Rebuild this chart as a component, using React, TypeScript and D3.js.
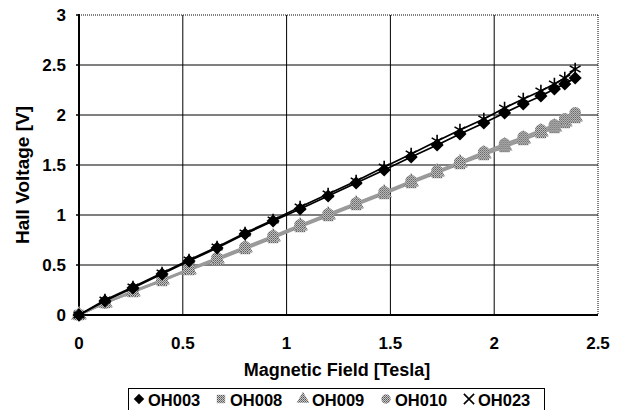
import React from "react";
import * as d3 from "d3";

// magnetic field (T) at each measurement step
const fieldT = [0, 0.125, 0.26, 0.4, 0.53, 0.665, 0.8, 0.935, 1.065, 1.2, 1.335, 1.47, 1.6, 1.725, 1.835, 1.95, 2.05, 2.14, 2.225, 2.29, 2.34, 2.39];

const oh003 = [0, 0.14, 0.27, 0.41, 0.54, 0.67, 0.81, 0.94, 1.06, 1.19, 1.32, 1.45, 1.58, 1.7, 1.81, 1.92, 2.02, 2.11, 2.19, 2.26, 2.31, 2.37];
const oh023 = [0, 0.15, 0.28, 0.42, 0.55, 0.68, 0.82, 0.95, 1.08, 1.21, 1.34, 1.48, 1.61, 1.74, 1.85, 1.96, 2.07, 2.16, 2.24, 2.31, 2.37, 2.46];
const oh008 = [0, 0.12, 0.23, 0.34, 0.45, 0.55, 0.66, 0.77, 0.88, 0.99, 1.1, 1.21, 1.32, 1.42, 1.51, 1.6, 1.68, 1.75, 1.82, 1.87, 1.92, 1.97];
const oh009 = [0, 0.12, 0.23, 0.35, 0.45, 0.56, 0.67, 0.78, 0.89, 1.0, 1.11, 1.22, 1.33, 1.43, 1.52, 1.61, 1.69, 1.76, 1.83, 1.88, 1.93, 1.98];
const oh010 = [0, 0.12, 0.24, 0.35, 0.46, 0.57, 0.68, 0.79, 0.9, 1.01, 1.12, 1.23, 1.34, 1.44, 1.53, 1.63, 1.71, 1.78, 1.85, 1.9, 1.96, 2.02];

const xTicks = [0, 0.5, 1, 1.5, 2, 2.5];
const yTicks = [0, 0.5, 1, 1.5, 2, 2.5, 3];

const BLACK = "#000";
const GRAY = "#9a9a9a";

const series = [
  { name: "OH008", values: oh008, color: GRAY, symbol: d3.symbolSquare },
  { name: "OH009", values: oh009, color: GRAY, symbol: d3.symbolTriangle },
  { name: "OH010", values: oh010, color: GRAY, symbol: d3.symbolCircle },
  { name: "OH003", values: oh003, color: BLACK, symbol: d3.symbolDiamond2 },
  { name: "OH023", values: oh023, color: BLACK, symbol: d3.symbolAsterisk },
];
const legendOrder = ["OH003", "OH008", "OH009", "OH010", "OH023"];
const legendX = [139, 221, 303, 386, 469];

const W = 623, H = 410;
const m = { left: 79, right: 25, top: 15, bottom: 95 };
const font = "'Liberation Sans', Arial, sans-serif";

function Marker({ s, x, y, size, symbol }: any) {
  const type = symbol || s.symbol;
  const path = d3.symbol().type(type).size(size)();
  const stroked = type === d3.symbolAsterisk || type === d3.symbolTimes;
  return (
    <path
      d={path || ""}
      transform={`translate(${x},${y})`}
      fill={stroked ? "none" : s.color === GRAY ? "url(#dither)" : s.color}
      stroke={stroked ? s.color : "none"}
      strokeWidth={stroked ? 1.6 : 0}
    />
  );
}

export default function App() {
  const x = d3.scaleLinear().domain([0, 2.5]).range([m.left, W - m.right]);
  const y = d3.scaleLinear().domain([0, 3]).range([H - m.bottom, m.top]);
  const line = d3.line<number>().x((d, i) => x(fieldT[i])).y((d) => y(d));

  const x0 = x(0), x1 = x(2.5), y0 = y(0), y1 = y(3);

  return (
    <svg width={W} height={H} style={{ position: "absolute", left: 0, top: 0 }} fontFamily={font}>
      <defs>
        <pattern id="dither" width="2" height="2" patternUnits="userSpaceOnUse">
          <rect width="2" height="2" fill="#c8c8c8" />
          <rect width="1" height="1" fill="#555" />
          <rect x="1" y="1" width="1" height="1" fill="#777" />
        </pattern>
      </defs>
      <rect width={W} height={H} fill="#fff" />

      {/* grid */}
      {xTicks.slice(1, -1).map((t) => (
        <line key={"gx" + t} x1={x(t)} x2={x(t)} y1={y0} y2={y1} stroke="#000" strokeWidth={1} />
      ))}
      {yTicks.slice(1, -1).map((t) => (
        <line key={"gy" + t} x1={x0} x2={x1} y1={y(t)} y2={y(t)} stroke="#000" strokeWidth={1} />
      ))}
      {/* dotted frame top/right */}
      <line x1={x0} x2={x1} y1={y1} y2={y1} stroke="#000" strokeWidth={1} strokeDasharray="1,1" />
      <line x1={x1} x2={x1} y1={y1} y2={y0} stroke="#000" strokeWidth={1} strokeDasharray="1,1" />
      {/* axes */}
      <line x1={x0} x2={x0} y1={y1 - 1} y2={y0 + 1} stroke="#000" strokeWidth={2} />
      <line x1={x0 - 1} x2={x1} y1={y0} y2={y0} stroke="#000" strokeWidth={2} />
      {yTicks.map((t) => (
        <line key={"ty" + t} x1={x0 - 3} x2={x0} y1={y(t)} y2={y(t)} stroke="#000" strokeWidth={1.5} />
      ))}

      {/* series */}
      {series.map((s) => (
        <g key={s.name}>
          <path d={line(s.values) || ""} fill="none" stroke={s.color} strokeWidth={s.color === GRAY ? 2.2 : 1.8} />
          {s.values.map((v, i) => (
            <Marker key={i} s={s} x={x(fieldT[i])} y={y(v)} size={110} />
          ))}
        </g>
      ))}

      {/* tick labels */}
      {yTicks.map((t) => (
        <text key={"ly" + t} x={66} y={y(t)} dy="0.36em" textAnchor="end" fontSize={17} fontWeight="bold">
          {t}
        </text>
      ))}
      {xTicks.map((t) => (
        <text key={"lx" + t} x={x(t)} y={349} textAnchor="middle" fontSize={17} fontWeight="bold">
          {t}
        </text>
      ))}

      {/* titles */}
      <text x={337} y={376} textAnchor="middle" fontSize={18} fontWeight="bold">
        Magnetic Field [Tesla]
      </text>
      <text transform="translate(29,175) rotate(-90)" textAnchor="middle" fontSize={19} fontWeight="bold">
        Hall Voltage [V]
      </text>

      {/* legend */}
      <rect x={128.5} y={388.5} width={416} height={24} fill="#fff" stroke="#000" strokeWidth={1} />
      {legendOrder.map((name, i) => {
        const s = series.find((d) => d.name === name)!;
        const lx = legendX[i];
        const sym = s.symbol === d3.symbolAsterisk ? d3.symbolTimes : s.symbol;
        return (
          <g key={name}>
            <Marker s={s} x={lx} y={399} size={70} symbol={sym} />
            <text x={lx + 9} y={406} fontSize={16.5} fontWeight="bold">
              {name}
            </text>
          </g>
        );
      })}
    </svg>
  );
}
